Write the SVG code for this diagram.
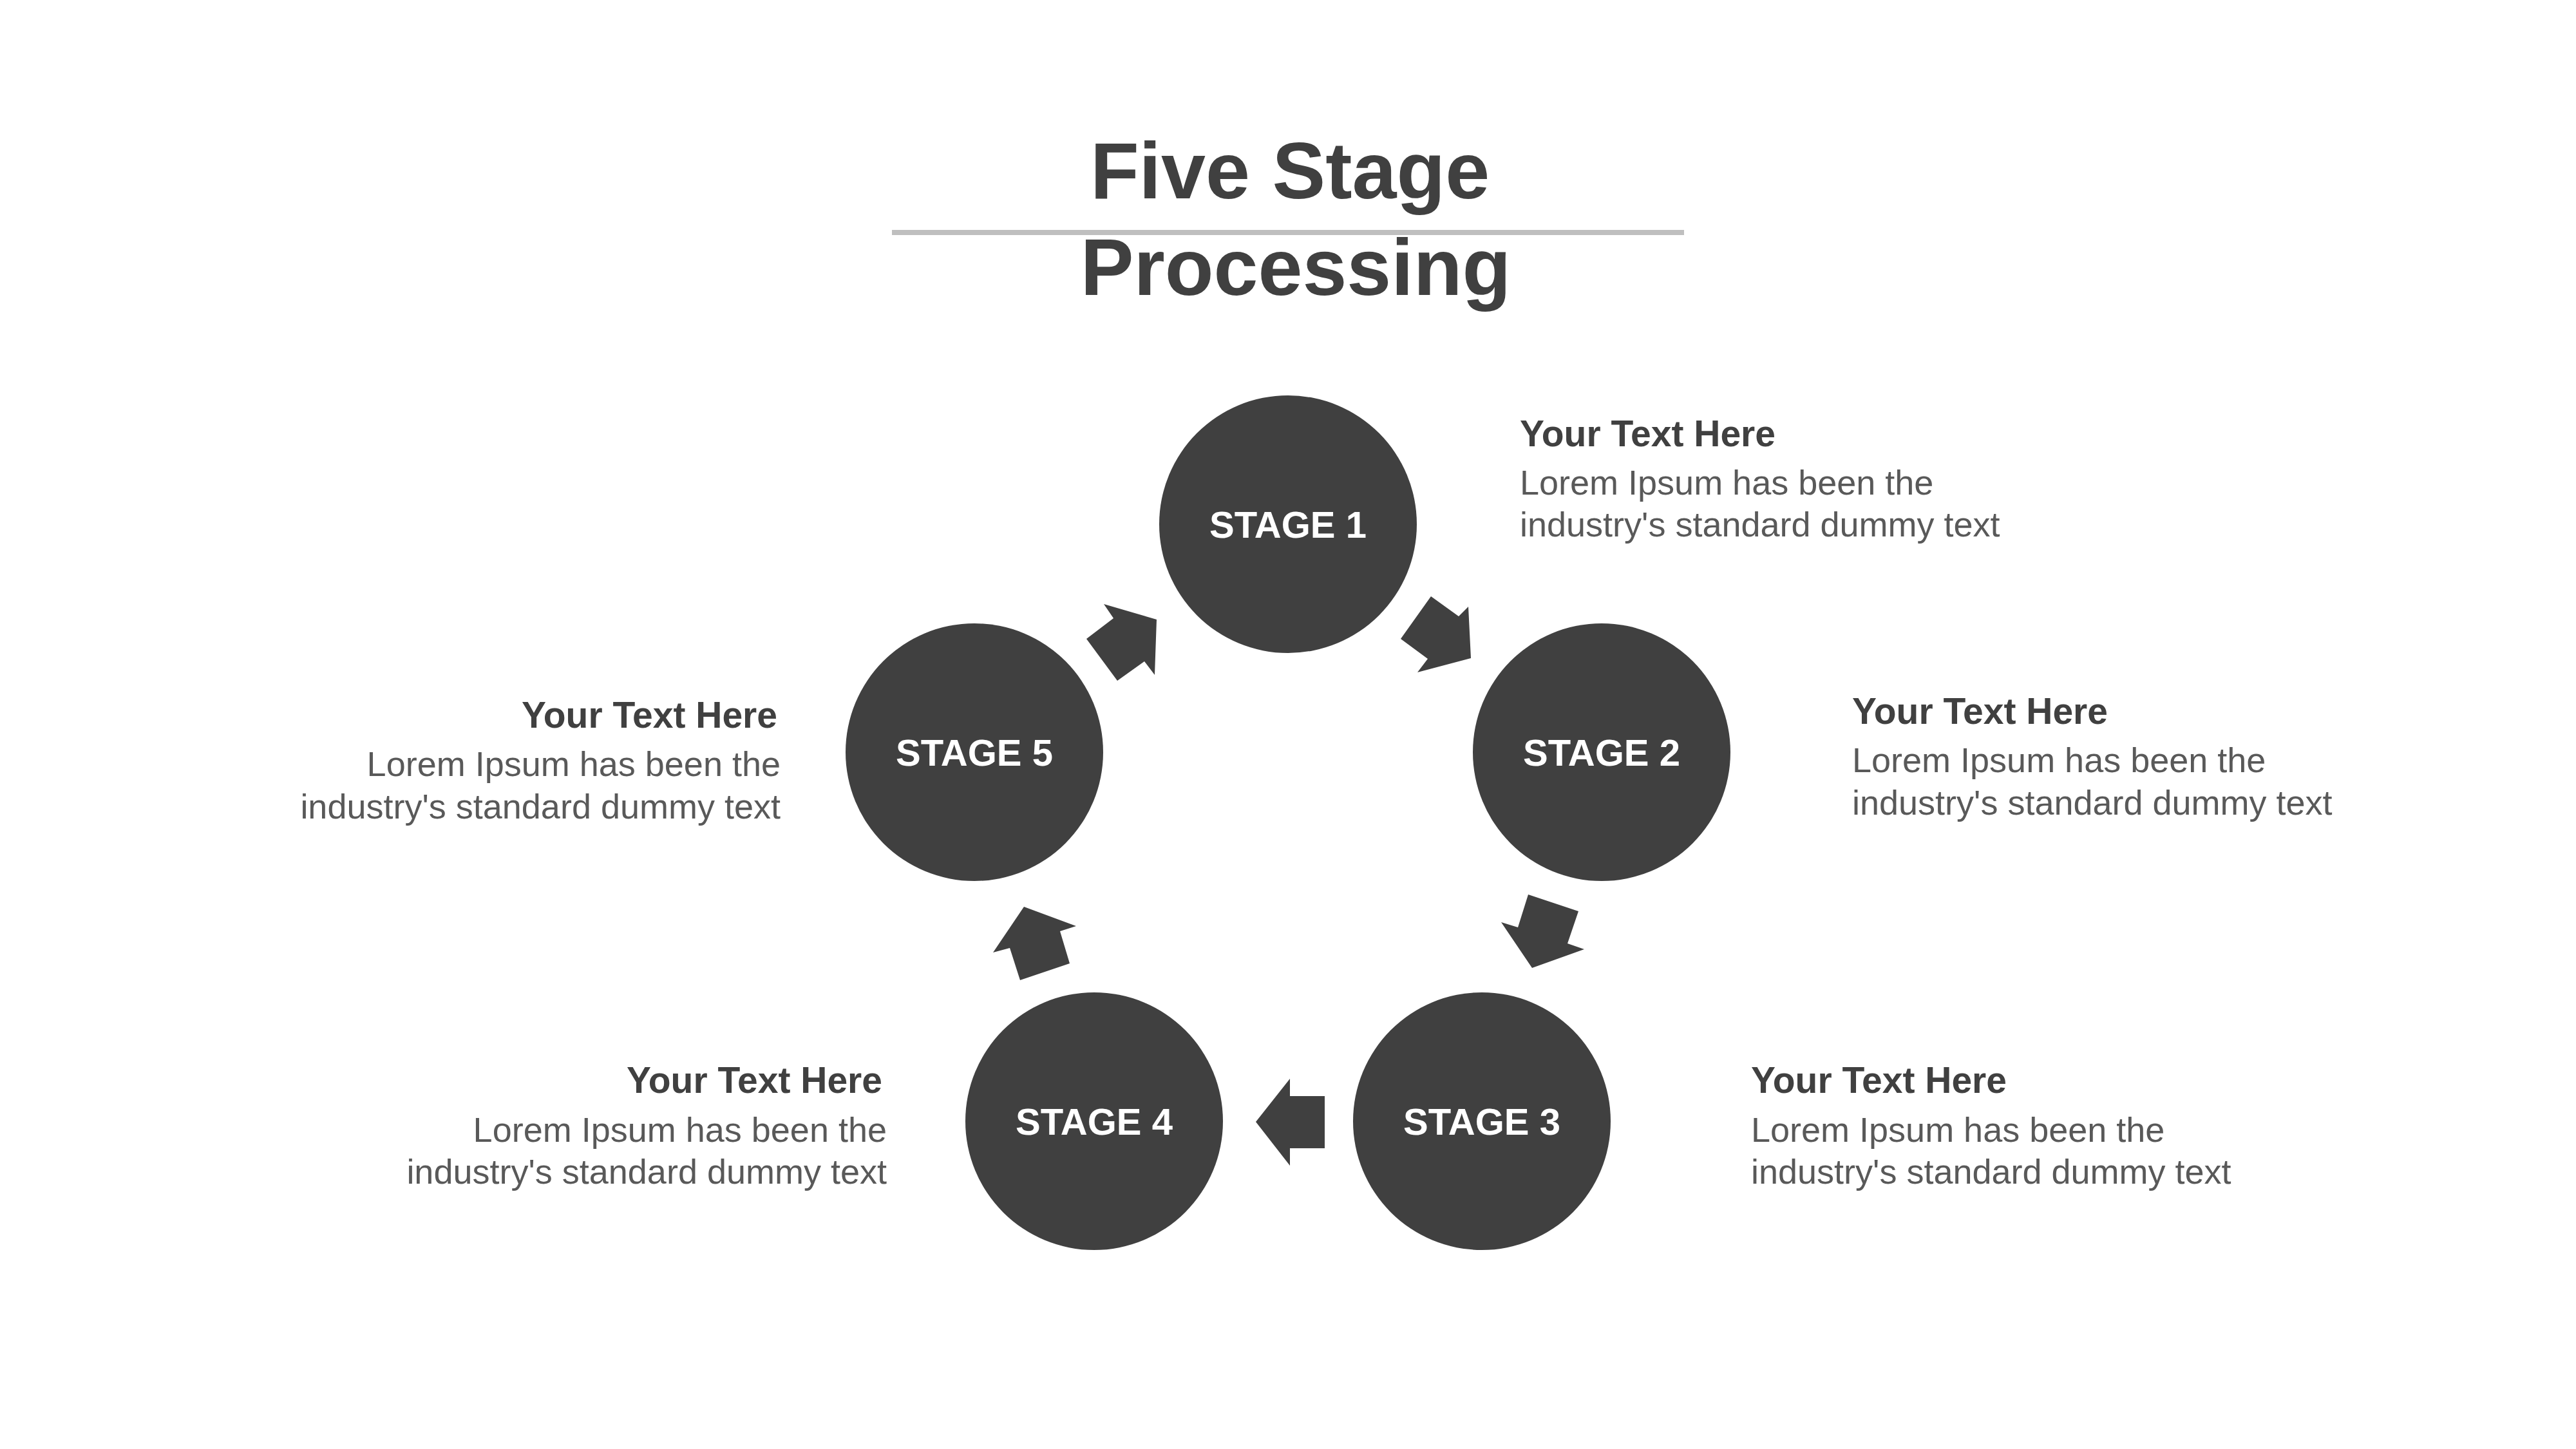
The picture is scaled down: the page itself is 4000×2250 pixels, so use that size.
<svg xmlns="http://www.w3.org/2000/svg" width="4000" height="2250" viewBox="0 0 4000 2250">
<style>
.bg{fill:#FFFFFF}
.title{font-family:"Liberation Sans",Arial,sans-serif;font-weight:bold;font-size:124px;fill:#404040;text-anchor:middle}
.rule{fill:#BFBFBF}
.circ{fill:#404040}
.lbl{font-family:"Liberation Sans",Arial,sans-serif;font-weight:bold;font-size:58px;fill:#FFFFFF;text-anchor:middle}
.arrow{fill:#404040}
.head{font-family:"Liberation Sans",Arial,sans-serif;font-weight:bold;font-size:57px;fill:#404040}
.body{font-family:"Liberation Sans",Arial,sans-serif;font-size:54px;fill:#595959}
.end{text-anchor:end}
</style>
<rect class="bg" x="0" y="0" width="4000" height="2250"/>
<g id="title">
<text class="title" x="2003" y="308">Five Stage</text>
<rect class="rule" x="1385" y="357" width="1230" height="8"/>
<text class="title" x="2012" y="458">Processing</text>
</g>
<g id="connectors">
<polygon class="arrow" points="2222,926 2265,957 2280,942 2284,1022 2201,1044 2217,1023 2175,992"/>
<polygon class="arrow" points="2373,1389 2451,1415 2434,1465 2460,1474 2379,1503 2331,1432 2357,1440"/>
<polygon class="arrow" points="2057,1702 2057,1783 2003,1783 2003,1810 1950,1742 2003,1675 2003,1702"/>
<polygon class="arrow" points="1590,1408 1671,1438 1646,1446 1661,1496 1584,1522 1568,1472 1542,1479"/>
<polygon class="arrow" points="1714,938 1796,962 1793,1048 1777,1027 1735,1057 1687,992 1729,960"/>
</g>
<g id="stage1">
<circle class="circ" cx="2000" cy="814" r="200"/>
<text class="lbl" x="2000" y="835">STAGE 1</text>
</g>
<g id="stage2">
<circle class="circ" cx="2487" cy="1168" r="200"/>
<text class="lbl" x="2487" y="1189">STAGE 2</text>
</g>
<g id="stage3">
<circle class="circ" cx="2301" cy="1741" r="200"/>
<text class="lbl" x="2301" y="1762">STAGE 3</text>
</g>
<g id="stage4">
<circle class="circ" cx="1699" cy="1741" r="200"/>
<text class="lbl" x="1699" y="1762">STAGE 4</text>
</g>
<g id="stage5">
<circle class="circ" cx="1513" cy="1168" r="200"/>
<text class="lbl" x="1513" y="1189">STAGE 5</text>
</g>
<g id="text1">
<text class="head" x="2360" y="693">Your Text Here</text>
<text class="body" x="2360" y="768">Lorem Ipsum has been the</text>
<text class="body" x="2360" y="833">industry's standard dummy text</text>
</g>
<g id="text2">
<text class="head" x="2876" y="1124">Your Text Here</text>
<text class="body" x="2876" y="1199">Lorem Ipsum has been the</text>
<text class="body" x="2876" y="1265">industry's standard dummy text</text>
</g>
<g id="text3">
<text class="head" x="2719" y="1697">Your Text Here</text>
<text class="body" x="2719" y="1773">Lorem Ipsum has been the</text>
<text class="body" x="2719" y="1838">industry's standard dummy text</text>
</g>
<g id="text4">
<text class="head end" x="1370" y="1697">Your Text Here</text>
<text class="body end" x="1377" y="1773">Lorem Ipsum has been the</text>
<text class="body end" x="1377" y="1838">industry's standard dummy text</text>
</g>
<g id="text5">
<text class="head end" x="1207" y="1130">Your Text Here</text>
<text class="body end" x="1212" y="1205">Lorem Ipsum has been the</text>
<text class="body end" x="1212" y="1271">industry's standard dummy text</text>
</g>
</svg>
